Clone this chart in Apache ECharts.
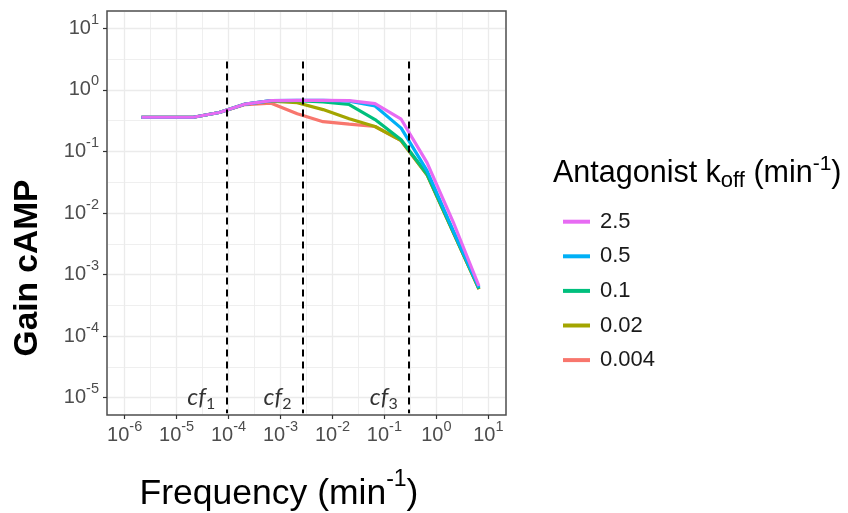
<!DOCTYPE html>
<html>
<head>
<meta charset="utf-8">
<script src="https://cdn.jsdelivr.net/npm/echarts@6/dist/echarts.min.js"></script>
<style>
  html, body { margin: 0; padding: 0; background: #fff; }
  #chart { width: 848px; height: 513px; }
</style>
</head>
<body>
<div id="chart"></div>
<script>
// stimulation frequency (min^-1)
const freq = [2.1e-6, 6.6e-6, 2.1e-5, 6.6e-5, 2.1e-4, 6.6e-4, 2.1e-3, 6.6e-3, 2.1e-2, 6.6e-2, 0.21, 0.66, 2.1, 6.6];

// gain cAMP, one array per antagonist koff (min^-1)
const gain2_5   = [0.36, 0.36, 0.36, 0.43, 0.59, 0.67, 0.68, 0.68, 0.67, 0.60, 0.335, 0.066, 0.0072, 0.00065];
const gain0_5   = [0.36, 0.36, 0.36, 0.43, 0.59, 0.67, 0.68, 0.68, 0.66, 0.55, 0.24, 0.049, 0.0052, 0.00061];
const gain0_1   = [0.36, 0.36, 0.36, 0.43, 0.59, 0.67, 0.67, 0.64, 0.58, 0.33, 0.155, 0.043, 0.0050, 0.00059];
const gain0_02  = [0.36, 0.36, 0.36, 0.43, 0.59, 0.66, 0.62, 0.48, 0.34, 0.255, 0.15, 0.042, 0.0049, 0.00058];
const gain0_004 = [0.36, 0.36, 0.36, 0.43, 0.58, 0.61, 0.41, 0.305, 0.278, 0.255, 0.15, 0.042, 0.0049, 0.00058];

const koffNames = ['2.5', '0.5', '0.1', '0.02', '0.004'];
const koffColors = ['#E76BF3', '#00B0F6', '#00BF7D', '#A3A500', '#F8766D'];

// critical frequencies cf1..cf3 (dashed lines)
const cutoffFreq = [9.2e-5, 2.7e-3, 0.30];
const cutoffNames = ['1', '2', '3'];
const cutoffTop = 2.9;   // dashed lines start at this gain

// tick exponents (10^n)
const xTickExp = [-6, -5, -4, -3, -2, -1, 0, 1];
const yTickExp = [-5, -4, -3, -2, -1, 0, 1];

// panel limits in log10 units
const X_MIN = -6.34, X_MAX = 1.34;
const Y_MIN = -5.284, Y_MAX = 1.284;

const FONT = '"Liberation Sans", Arial, sans-serif';
const lg = Math.log10;

const gains = [gain2_5, gain0_5, gain0_1, gain0_02, gain0_004];

// grid lines (major at decades, minor at half decades)
const gridLines = [];
const xIn = 0.02, yIn = 0.016;
function vLine(x, w) {
  gridLines.push([{ coord: [x, Y_MIN + yIn], lineStyle: { color: '#EBEBEB', width: w, type: 'solid' } }, { coord: [x, Y_MAX - yIn] }]);
}
function hLine(y, w) {
  gridLines.push([{ coord: [X_MIN + xIn, y], lineStyle: { color: '#EBEBEB', width: w, type: 'solid' } }, { coord: [X_MAX - xIn, y] }]);
}
xTickExp.forEach(function (e) {
  vLine(e, 1.3);
  if (e + 0.5 < X_MAX) vLine(e + 0.5, 0.8);
});
yTickExp.forEach(function (e) {
  hLine(e, 1.3);
  if (e + 0.5 < Y_MAX) hLine(e + 0.5, 0.8);
});

const tickRich = {
  b: { fontSize: 20, lineHeight: 20, fontFamily: FONT, color: '#4D4D4D' },
  s: { fontSize: 14.5, lineHeight: 14, fontFamily: FONT, color: '#4D4D4D', padding: [0, 0, 17, 0] }
};
function powLabel(v) {
  return '{b|10}{s|' + v + '}';
}

const lineSeries = koffNames.map(function (name, i) {
  return {
    name: name,
    type: 'line',
    symbol: 'none',
    z: 3,
    lineStyle: { width: 3.2, color: koffColors[i] },
    itemStyle: { color: koffColors[i] },
    data: freq.map(function (f, j) { return [lg(f), lg(gains[i][j])]; })
  };
}).reverse();   // 0.004 drawn first, 2.5 on top

const chart = echarts.init(document.getElementById('chart'));

const option = {
  animation: false,
  backgroundColor: '#fff',
  grid: {
    left: 107, top: 11, width: 399, height: 404,
    show: true, backgroundColor: '#fff',
    borderColor: '#4D4D4D', borderWidth: 1.5
  },
  xAxis: {
    type: 'value', min: X_MIN, max: X_MAX,
    axisLine: { show: false, onZero: false },
    splitLine: { show: false },
    axisTick: { show: true, customValues: xTickExp, length: 4, lineStyle: { color: '#333', width: 1.2 } },
    axisLabel: { customValues: xTickExp, margin: 10, formatter: powLabel, rich: tickRich }
  },
  yAxis: {
    type: 'value', min: Y_MIN, max: Y_MAX,
    axisLine: { show: false, onZero: false },
    splitLine: { show: false },
    axisTick: { show: true, customValues: yTickExp, length: 4, lineStyle: { color: '#333', width: 1.2 } },
    axisLabel: { customValues: yTickExp, margin: 8, formatter: powLabel, rich: tickRich }
  },
  legend: {
    data: koffNames,
    orient: 'vertical',
    left: 558, top: 205.7,
    itemWidth: 27, itemHeight: 4, itemGap: 12.6,
    icon: 'rect',
    textStyle: { fontSize: 22, lineHeight: 22, fontFamily: FONT, color: '#1A1A1A', padding: [0, 0, 0, 5] }
  },
  graphic: [
    {
      type: 'text', x: 553, y: 174,
      style: {
        text: 'Antagonist k{sub|off} (min{sup|-1})',
        fontSize: 30.5, fontFamily: FONT, fill: '#000',
        align: 'left', verticalAlign: 'middle',
        rich: {
          sub: { fontSize: 22, lineHeight: 22, fontFamily: FONT, fill: '#000', padding: [14, 0, 0, 0] },
          sup: { fontSize: 21, lineHeight: 21, fontFamily: FONT, fill: '#000', padding: [0, 0, 20, 0] }
        }
      }
    },
    {
      type: 'text', x: 279, y: 494,
      style: {
        text: 'Frequency (min{sup|-1})',
        fontSize: 35.5, fontFamily: FONT, fill: '#000',
        align: 'center', verticalAlign: 'middle',
        rich: {
          sup: { fontSize: 23, lineHeight: 23, fontFamily: FONT, fill: '#000', padding: [0, 0, 28, 0] }
        }
      }
    },
    {
      type: 'text', x: 28, y: 268, rotation: Math.PI / 2,
      style: {
        text: 'Gain cAMP',
        fontSize: 33.5, fontWeight: 'bold', fontFamily: FONT, fill: '#000',
        align: 'center', verticalAlign: 'middle'
      }
    }
  ],
  series: [
    {
      name: 'grid',
      type: 'line',
      data: [],
      silent: true,
      z: 1,
      markLine: {
        z: 1, silent: true, symbol: 'none', animation: false,
        label: { show: false },
        data: gridLines
      }
    }
  ].concat(lineSeries).concat([
    {
      name: 'cutoff',
      type: 'scatter',
      silent: true,
      z: 6,
      symbolSize: 1,
      itemStyle: { color: 'transparent' },
      data: cutoffFreq.map(function (f, i) { return { value: [lg(f), -5], name: cutoffNames[i] }; }),
      label: {
        show: true, position: 'left', distance: 11,
        formatter: function (p) { return '{i|cf}{n|' + p.name + '}'; },
        rich: {
          i: { fontSize: 24, lineHeight: 24, fontFamily: 'Lato, "Open Sans", sans-serif', fontStyle: 'italic', color: '#000' },
          n: { fontSize: 16, lineHeight: 16, fontFamily: 'Lato, "Open Sans", sans-serif', color: '#000', padding: [12, 0, 0, 0] }
        }
      },
      markLine: {
        silent: true, symbol: 'none', animation: false,
        label: { show: false },
        lineStyle: { color: '#000', width: 2, type: [7, 5] },
        data: cutoffFreq.map(function (f) {
          return [{ coord: [lg(f), lg(cutoffTop)] }, { coord: [lg(f), Y_MIN + 0.03] }];
        })
      }
    }
  ])
};

chart.setOption(option);
</script>
</body>
</html>
